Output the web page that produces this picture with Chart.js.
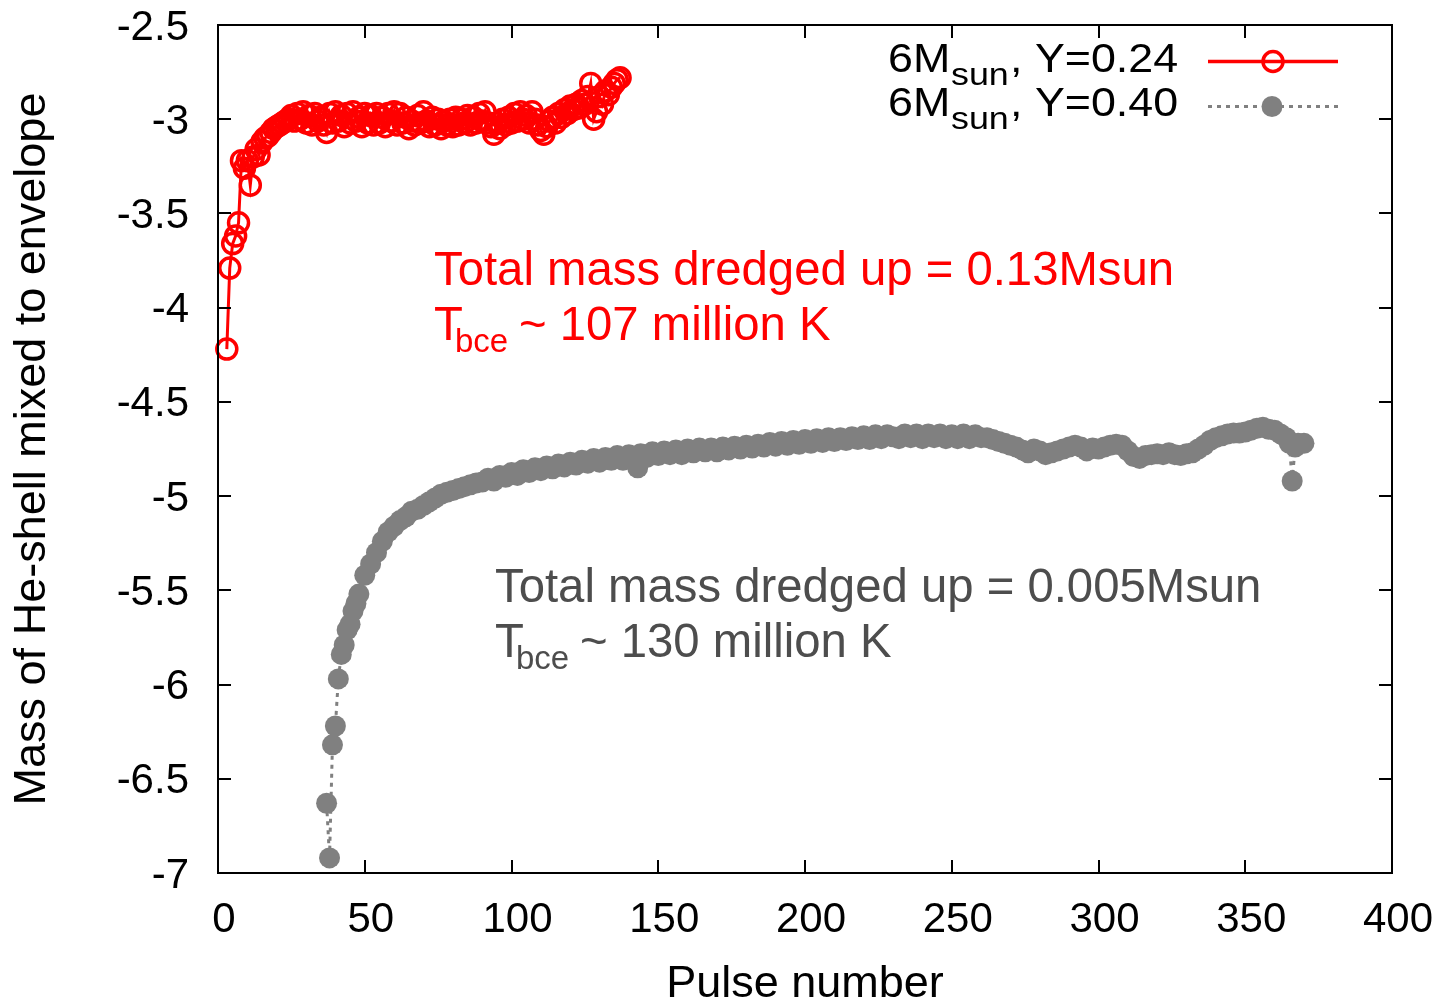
<!DOCTYPE html>
<html><head><meta charset="utf-8">
<script src="https://cdn.jsdelivr.net/npm/chart.js@4/dist/chart.umd.min.js"></script>
<style>html,body{margin:0;padding:0;background:#fff;} #wrap{width:1439px;height:1004px;}</style>
</head><body><div id="wrap"><canvas id="c" width="1439" height="1004"></canvas></div>
<script>
const xTicks = [0,50,100,150,200,250,300,350,400];
const yTicks = [-7,-6.5,-6,-5.5,-5,-4.5,-4,-3.5,-3,-2.5];

const redPulse = [
3,4,5,6,7,8,9,10,11,12,
13,14,15,16,17,18,19,20,21,22,
23,24,25,26,27,28,29,30,31,32,
33,34,35,36,37,38,39,40,41,42,
43,44,45,46,47,48,49,50,51,52,
53,54,55,56,57,58,59,60,61,62,
63,64,65,66,67,68,69,70,71,72,
73,74,75,76,77,78,79,80,81,82,
83,84,85,86,87,88,89,90,91,92,
93,94,95,96,97,98,99,100,101,102,
103,104,105,106,107,108,109,110,111,112,
113,114,115,116,117,118,119,120,121,122,
123,124,125,126,127,128,129,130,131,132,
133,134,135,136,137];
const redMass = [
-4.22,-3.79,-3.66,-3.62,-3.55,-3.22,-3.26,-3.22,-3.35,-3.20,
-3.16,-3.19,-3.12,-3.10,-3.09,-3.07,-3.05,-3.04,-3.03,-3.02,
-3.01,-3.00,-2.98,-3.01,-2.97,-3.00,-2.96,-3.02,-2.98,-3.03,
-2.97,-3.01,-2.99,-3.03,-3.07,-2.97,-3.02,-2.96,-3.01,-2.98,
-3.04,-2.97,-3.02,-2.96,-3.01,-2.99,-3.04,-2.97,-3.02,-2.98,
-3.03,-2.97,-3.02,-2.99,-3.04,-2.97,-3.01,-2.96,-3.03,-2.97,
-3.02,-2.99,-3.05,-3.01,-3.03,-2.98,-3.02,-2.96,-3.01,-3.04,
-2.99,-3.03,-3.00,-3.05,-3.01,-3.03,-3.00,-3.04,-2.99,-3.03,
-3.00,-3.02,-2.98,-3.03,-2.99,-3.02,-2.97,-3.01,-2.96,-3.02,
-3.04,-3.08,-3.02,-3.05,-3.00,-3.03,-2.99,-3.02,-2.97,-3.01,
-2.96,-3.00,-2.98,-3.02,-2.96,-3.00,-3.03,-3.06,-3.08,-3.04,
-3.01,-2.99,-3.02,-2.97,-2.99,-2.95,-2.97,-2.93,-2.95,-2.92,
-2.94,-2.90,-2.92,-2.88,-2.81,-3.00,-2.96,-2.88,-2.92,-2.85,
-2.87,-2.83,-2.81,-2.79,-2.78];

const grayPulse = [
37,38,39,40,41,42,43,44,45,46,47,48,
50,52,54,56,58,60,62,64,66,68,
70,72,74,76,78,80,82,84,86,88,
90,92,94,96,98,100,102,104,106,108,
110,112,114,116,118,120,122,124,126,128,
130,132,134,136,138,140,142,143,144,146,148,
150,152,154,156,158,160,162,164,166,168,
170,172,174,176,178,180,182,184,186,188,
190,192,194,196,198,200,202,204,206,208,
210,212,214,216,218,220,222,224,226,228,
230,232,234,236,238,240,242,244,246,248,
250,252,254,256,258,260,262,264,266,268,
270,272,274,276,278,280,282,284,286,288,
290,292,294,296,298,300,302,304,306,308,
310,312,314,316,318,320,322,324,326,328,
330,332,334,336,338,340,342,344,346,348,
350,352,354,356,358,360,362,364,365,366,367,368,370];
const grayMass = [
-6.63,-6.92,-6.32,-6.22,-5.97,-5.84,-5.79,-5.71,-5.68,-5.61,-5.57,-5.52,
-5.42,-5.36,-5.30,-5.24,-5.19,-5.16,-5.13,-5.11,-5.08,-5.07,
-5.05,-5.03,-5.01,-4.99,-4.98,-4.97,-4.96,-4.95,-4.94,-4.93,
-4.925,-4.905,-4.92,-4.89,-4.90,-4.875,-4.89,-4.86,-4.875,-4.85,
-4.865,-4.84,-4.855,-4.83,-4.845,-4.82,-4.835,-4.81,-4.825,-4.80,
-4.82,-4.795,-4.81,-4.785,-4.81,-4.78,-4.795,-4.85,-4.775,-4.795,-4.765,
-4.785,-4.76,-4.78,-4.755,-4.78,-4.75,-4.77,-4.745,-4.765,-4.745,
-4.765,-4.74,-4.755,-4.735,-4.75,-4.73,-4.745,-4.725,-4.74,-4.715,
-4.735,-4.71,-4.73,-4.705,-4.725,-4.70,-4.72,-4.695,-4.715,-4.69,
-4.71,-4.69,-4.705,-4.685,-4.70,-4.68,-4.70,-4.675,-4.695,-4.675,
-4.685,-4.695,-4.67,-4.69,-4.67,-4.695,-4.67,-4.69,-4.67,-4.695,
-4.675,-4.695,-4.67,-4.695,-4.675,-4.69,-4.69,-4.70,-4.71,-4.72,
-4.73,-4.74,-4.755,-4.77,-4.75,-4.76,-4.78,-4.77,-4.76,-4.75,
-4.74,-4.73,-4.74,-4.76,-4.745,-4.75,-4.74,-4.73,-4.725,-4.73,
-4.76,-4.79,-4.80,-4.785,-4.78,-4.775,-4.78,-4.77,-4.78,-4.785,
-4.775,-4.77,-4.75,-4.73,-4.705,-4.69,-4.68,-4.67,-4.665,-4.665,
-4.66,-4.65,-4.64,-4.635,-4.645,-4.65,-4.67,-4.69,-4.72,-4.92,-4.74,-4.72,-4.72];

const legendMain = ['6M', '6M'];
const legendSub = ['sun', 'sun'];
const legendTail = [', Y=0.24', ', Y=0.40'];
const redNote = ['Total mass dredged up = 0.13Msun', '~ 107 million K'];
const grayNote = ['Total mass dredged up = 0.005Msun', '~ 130 million K'];

const RED = '#ff0000', GRAY = '#808080', GRAYTXT = '#4d4d4d';
const TXTFONT = '"Liberation Sans", Arial, sans-serif';

const framePlugin = {
  id: 'frame',
  afterDatasetsDraw(chart) {
    const {ctx, chartArea: {left, right, top, bottom}, scales: {x, y}} = chart;
    ctx.save();
    ctx.strokeStyle = '#000';
    ctx.lineWidth = 2;
    ctx.beginPath();
    xTicks.forEach(v => {
      const px = Math.round(x.getPixelForValue(v));
      ctx.moveTo(px, bottom); ctx.lineTo(px, bottom - 13);
      ctx.moveTo(px, top); ctx.lineTo(px, top + 13);
    });
    yTicks.forEach(v => {
      const py = Math.round(y.getPixelForValue(v));
      ctx.moveTo(left, py); ctx.lineTo(left + 13, py);
      ctx.moveTo(right, py); ctx.lineTo(right - 13, py);
    });
    ctx.stroke();
    ctx.strokeRect(left, top, right - left, bottom - top);
    ctx.restore();
  }
};

function note(ctx, lines, color, x, b1, b2) {
  ctx.fillStyle = color;
  ctx.font = '47.3px ' + TXTFONT;
  ctx.fillText(lines[0], x, b1);
  ctx.fillText('T', x, b2);
  ctx.fillText(lines[1], x + 85, b2);
  ctx.font = '33px ' + TXTFONT;
  ctx.fillText('bce', x + 21, b2 + 12);
}

function wideText(ctx, str, x, b, size) {
  ctx.save();
  ctx.translate(x, b);
  ctx.scale(1.12, 1);
  ctx.font = size + 'px ' + TXTFONT;
  ctx.fillText(str, 0, 0);
  ctx.restore();
}

const textPlugin = {
  id: 'texts',
  afterDraw(chart) {
    const ctx = chart.ctx;
    ctx.save();
    ctx.textAlign = 'left';
    ctx.textBaseline = 'alphabetic';
    note(ctx, redNote, RED, 434, 285, 340);
    note(ctx, grayNote, GRAYTXT, 495, 602, 657);

    // legend
    const rows = [72, 116];
    const lineY = [61.5, 106.5];
    ctx.fillStyle = '#000';
    for (let i = 0; i < 2; i++) {
      const b = rows[i];
      wideText(ctx, legendMain[i], 888, b, 40);
      wideText(ctx, legendSub[i], 951, b + 13, 32);
      wideText(ctx, legendTail[i], 1010, b, 40);
    }
    // samples
    ctx.lineWidth = 3.5;
    ctx.strokeStyle = RED;
    ctx.beginPath(); ctx.moveTo(1208, lineY[0]); ctx.lineTo(1338, lineY[0]); ctx.stroke();
    ctx.beginPath(); ctx.arc(1273, lineY[0], 10, 0, Math.PI * 2); ctx.stroke();
    ctx.lineWidth = 3;
    ctx.strokeStyle = GRAY;
    ctx.setLineDash([4, 5]);
    ctx.beginPath(); ctx.moveTo(1208, lineY[1]); ctx.lineTo(1338, lineY[1]); ctx.stroke();
    ctx.setLineDash([]);
    ctx.fillStyle = GRAY;
    ctx.beginPath(); ctx.arc(1272, lineY[1], 10.5, 0, Math.PI * 2); ctx.fill();
    ctx.restore();
  }
};

function zeroPad(s) {
  s.paddingTop = 0; s.paddingBottom = 0; s.paddingLeft = 0; s.paddingRight = 0;
}

new Chart(document.getElementById('c').getContext('2d'), {
  type: 'scatter',
  data: {
    datasets: [
      {
        label: '6Msun, Y=0.24',
        data: redPulse.map((p, i) => ({x: p, y: redMass[i]})),
        showLine: true,
        borderColor: RED,
        borderWidth: 3,
        pointStyle: 'circle',
        pointRadius: 10,
        pointBorderWidth: 3.5,
        pointBorderColor: RED,
        pointBackgroundColor: 'rgba(0,0,0,0)',
        tension: 0,
        clip: false
      },
      {
        label: '6Msun, Y=0.40',
        data: grayPulse.map((p, i) => ({x: p, y: grayMass[i]})),
        showLine: true,
        borderColor: GRAY,
        borderWidth: 3,
        borderDash: [4, 5],
        pointStyle: 'circle',
        pointRadius: 10.5,
        pointBorderWidth: 0,
        pointBorderColor: GRAY,
        pointBackgroundColor: GRAY,
        tension: 0,
        clip: false
      }
    ]
  },
  options: {
    responsive: false,
    animation: false,
    devicePixelRatio: 1,
    events: [],
    layout: {padding: {top: 25, right: 47, bottom: 0, left: 0}},
    plugins: {legend: {display: false}, tooltip: {enabled: false}},
    scales: {
      x: {
        type: 'linear', min: 0, max: 400,
        afterFit: s => { s.height = 131; zeroPad(s); },
        afterBuildTicks: s => { s.ticks = xTicks.map(v => ({value: v})); },
        grid: {display: false, drawTicks: false},
        border: {display: false},
        ticks: {
          font: {family: TXTFONT, size: 42}, color: '#000',
          padding: 22, labelOffset: 6, maxRotation: 0, autoSkip: false,
          callback: v => String(v)
        },
        title: {
          display: true, text: 'Pulse number', color: '#000',
          font: {family: TXTFONT, size: 45, lineHeight: 0.8},
          padding: {top: 0, bottom: 1}
        }
      },
      y: {
        type: 'linear', min: -7, max: -2.5,
        afterFit: s => { s.width = 218; zeroPad(s); },
        afterBuildTicks: s => { s.ticks = yTicks.map(v => ({value: v})); },
        grid: {display: false, drawTicks: false},
        border: {display: false},
        ticks: {
          font: {family: TXTFONT, size: 42}, color: '#000',
          padding: 29, labelOffset: 3, autoSkip: false,
          callback: v => String(v)
        },
        title: {
          display: true, text: 'Mass of He-shell mixed to envelope', color: '#000',
          font: {family: TXTFONT, size: 45, lineHeight: 1},
          padding: {top: 10, bottom: 0}
        }
      }
    }
  },
  plugins: [framePlugin, textPlugin]
});
</script>
</body></html>
